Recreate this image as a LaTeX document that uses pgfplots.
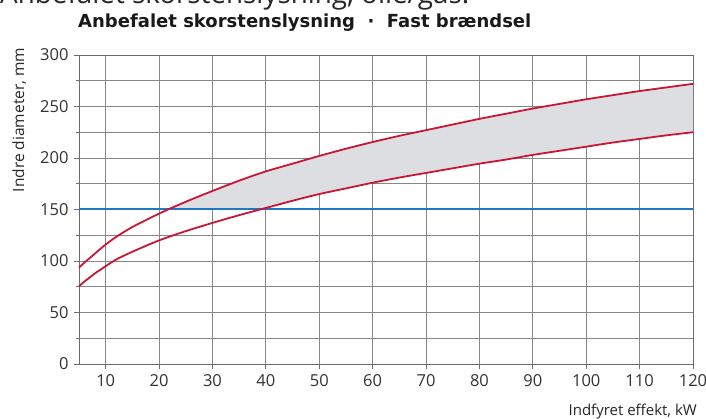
\documentclass[border=0pt]{standalone}
\usepackage{fontspec}
\setmainfont{Open Sans}
\newfontfamily\titlefont{DejaVu Sans}
\usepackage{graphicx}
\usepackage{pgfplots}
\pgfplotsset{compat=1.18}
\definecolor{redline}{RGB}{200,22,52}
\definecolor{blueline}{RGB}{34,120,192}
\definecolor{fillgrey}{RGB}{220,222,226}
\definecolor{gridgrey}{RGB}{135,135,135}
\begin{document}
\begin{tikzpicture}[x=1pt,y=1pt]
\path[use as bounding box] (0,0) rectangle (706,419);
\begin{axis}[
  at={(79pt,55pt)}, anchor=south west,
  scale only axis, width=614pt, height=309pt,
  xmin=5, xmax=120, ymin=0, ymax=300,
  xtick={10,20,...,120}, ytick={0,50,...,300},
  minor ytick={25,75,...,275},
  grid=both,
  major grid style={gridgrey, line width=0.8pt},
  minor grid style={gridgrey, line width=0.8pt},
  axis line style={gridgrey!80!black, line width=0.8pt},
  tick align=outside, xtick pos=bottom, ytick pos=left,
  major tick length=5pt, minor tick length=3pt,
  tick style={gridgrey!80!black, line width=0.8pt},
  /pgf/number format/assume math mode=true,
  ticklabel style={font=\fontsize{16.5}{18}\selectfont, text=black!80},
  xticklabel style={yshift=-2pt},
  yticklabel style={xshift=-2pt},
  clip=false,
]
\addplot[fill=fillgrey, draw=none] coordinates {
 (21.7,150) (25,157.5) (30,168) (35,178) (40,187) (45,194.5) (50,202) (55,209) (60,215.5) (65,221.5) (70,227) (75,232.5) (80,238) (85,243) (90,248) (95,252.5) (100,257) (105,261) (110,265) (115,268.5) (120,272)
 (120,225) (115,222) (110,218.5) (105,215) (100,211) (95,207) (90,203) (85,198.5) (80,194.5) (75,190) (70,185.5) (65,181) (60,176) (55,170.5) (50,165) (45,158.5) (40,151.5) (38.9,150)
} -- cycle;
\addplot[blueline, line width=2pt] coordinates {(5,150) (120,150)};
\addplot[redline, line width=1.8pt, smooth] coordinates {
 (5,93.5) (6,98.5) (7,102.8) (8,107.3) (10,116) (12,123.5) (15,133) (20,146) (25,157.5) (30,168) (35,178) (40,187) (45,194.5) (50,202) (55,209) (60,215.5) (65,221.5) (70,227) (75,232.5) (80,238) (85,243) (90,248) (95,252.5) (100,257) (105,261) (110,265) (115,268.5) (120,272)
};
\addplot[redline, line width=1.8pt, smooth] coordinates {
 (5,75.5) (6,80) (7,84) (8,88) (10,95) (12,101.5) (15,109) (20,120) (25,129) (30,137) (35,144.5) (40,151.5) (45,158.5) (50,165) (55,170.5) (60,176) (65,181) (70,185.5) (75,190) (80,194.5) (85,198.5) (90,203) (95,207) (100,211) (105,215) (110,218.5) (115,222) (120,225)
};
\end{axis}
\node[anchor=base west, inner sep=0pt, font=\fontsize{27.8}{32}\selectfont, text=black!85] at (0,415) {Anbefalet skorstenslysning, olie/gas.};
\node[anchor=base west, inner sep=0pt, text=black!90, font=\titlefont\bfseries\fontsize{18}{20}\selectfont] at (78,391) {Anbefalet skorstenslysning \ · \ Fast brændsel};
\node[rotate=90, anchor=base, inner sep=0pt, font=\fontsize{15.5}{18}\selectfont, text=black!85] at (24,299) {Indre diameter, mm};
\node[anchor=base east, inner sep=0pt, font=\fontsize{15}{18}\selectfont, text=black!85] at (697,3) {Indfyret effekt, kW};
\end{tikzpicture}
\end{document}
